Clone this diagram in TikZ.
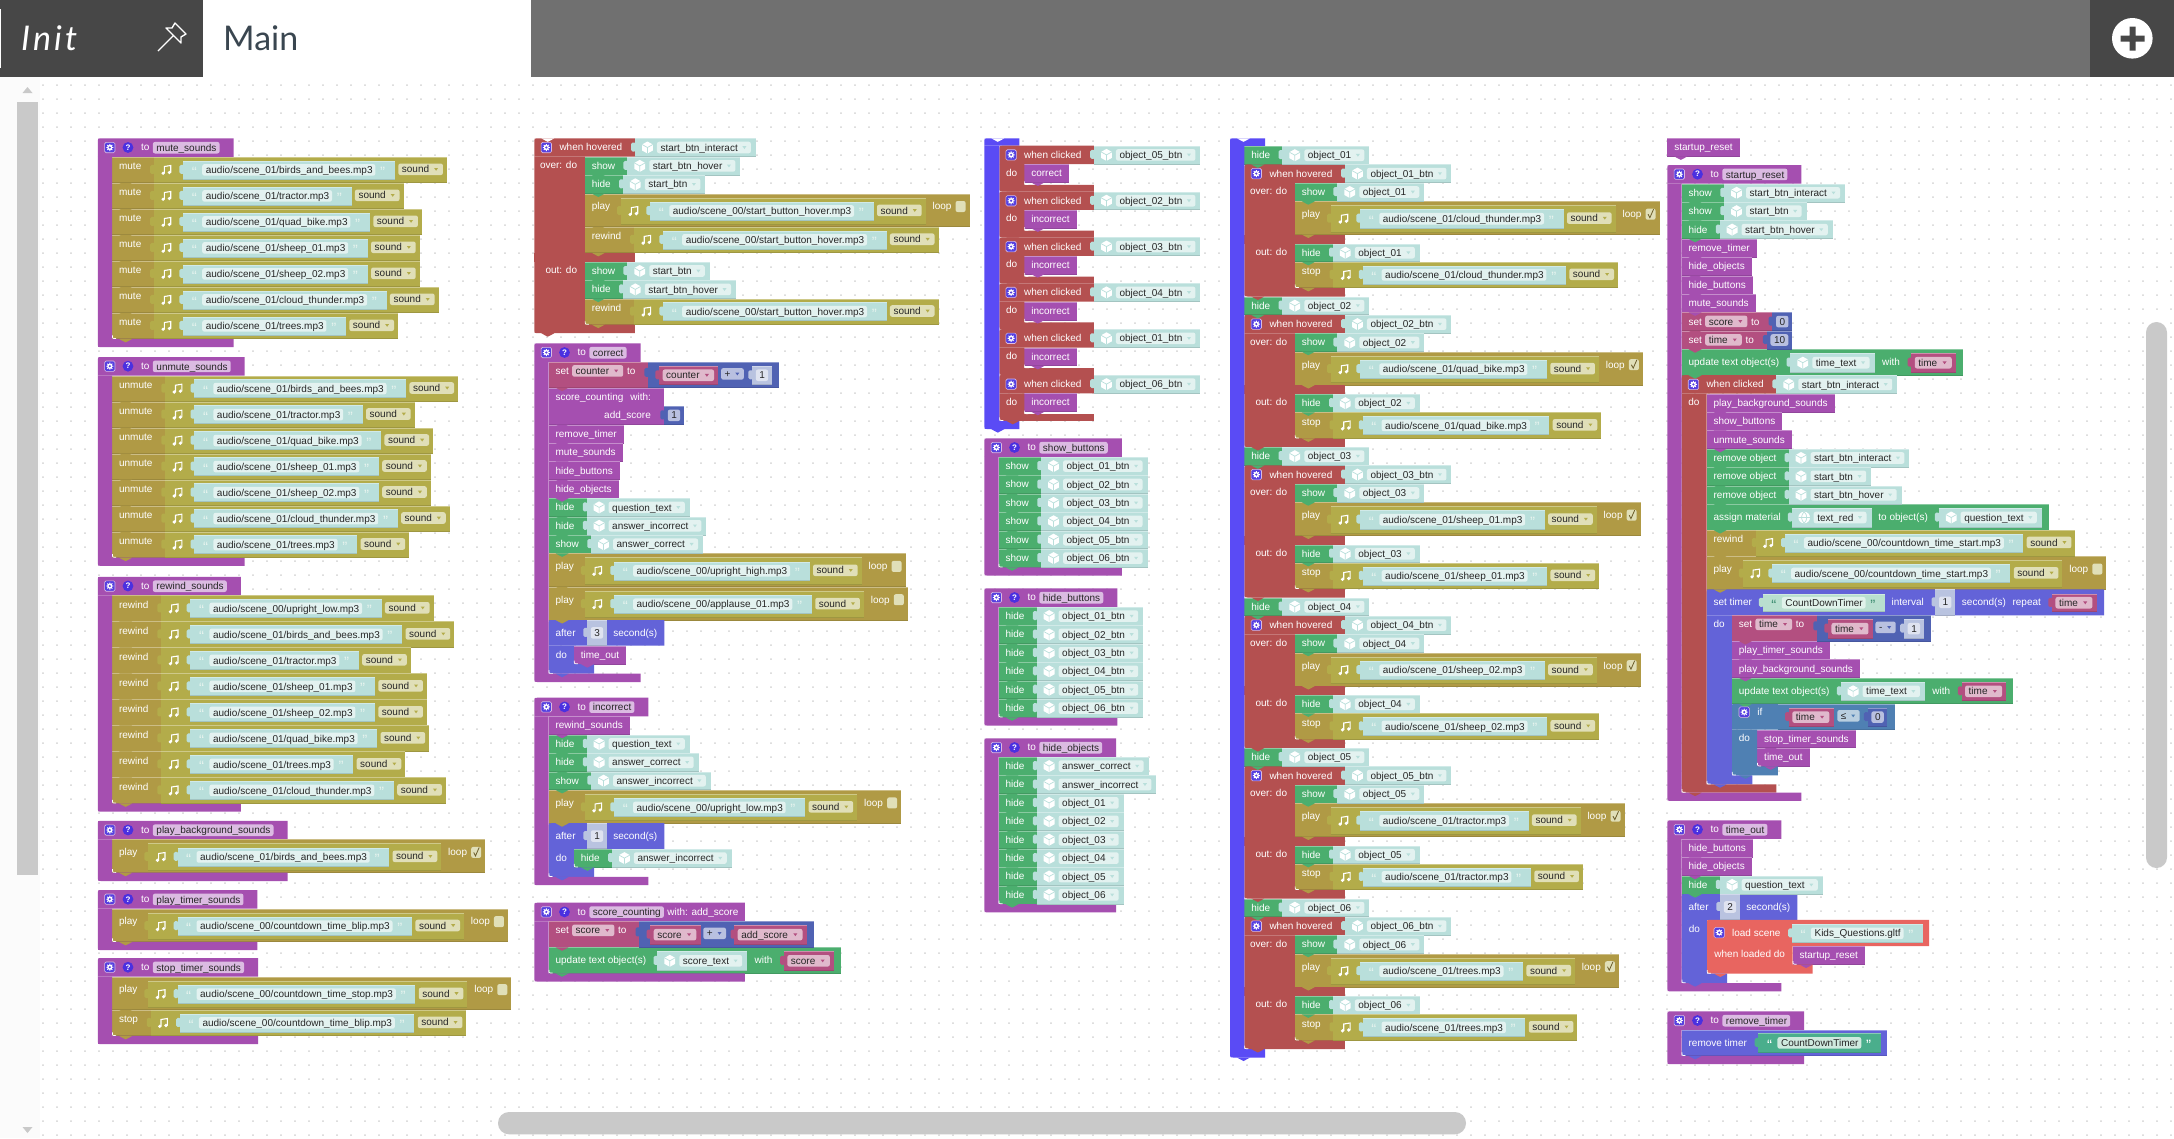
\documentclass[tikz,border=0pt]{standalone}
\usepackage{fontspec}
\usetikzlibrary{patterns}
\setmainfont{Liberation Sans}
\newfontfamily\tabfont{Lato}
\definecolor{fpur}{HTML}{A54FB0}
\definecolor{purf}{HTML}{DBBBE2}
\definecolor{hovc}{HTML}{B45050}
\definecolor{grnc}{HTML}{4BAE6E}
\definecolor{oldk}{HTML}{B09A45}
\definecolor{sndc}{HTML}{B3AC4A}
\definecolor{sndf}{HTML}{E0DFB8}
\definecolor{tealb}{HTML}{B9DFDB}
\definecolor{tealf}{HTML}{E3F2F0}
\definecolor{quot}{HTML}{E6F3EE}
\definecolor{varc}{HTML}{B34F80}
\definecolor{varf}{HTML}{E0B9CC}
\definecolor{mathc}{HTML}{5062B3}
\definecolor{mathf}{HTML}{B9C0E0}
\definecolor{nump}{HTML}{B9C3E0}
\definecolor{numf}{HTML}{DFE3F0}
\definecolor{timc}{HTML}{6363D8}
\definecolor{ifc}{HTML}{4F80B3}
\definecolor{iff}{HTML}{B9CFE0}
\definecolor{salc}{HTML}{E86560}
\definecolor{bluc}{HTML}{5A4BF5}
\definecolor{gearc}{HTML}{5540E0}
\definecolor{qc}{HTML}{4A30E0}
\definecolor{strg}{HTML}{4AAE8C}
\definecolor{strgf}{HTML}{CFE9DE}
\definecolor{strp}{HTML}{B9DFCF}
\definecolor{strpf}{HTML}{E0F2EA}
\definecolor{strq}{HTML}{3C8C70}
\definecolor{barc}{HTML}{C9C9C9}
\definecolor{dotc}{HTML}{DEDEDE}
\definecolor{mainc}{HTML}{3A4650}
\pgfdeclarepatternformonly{griddot}{\pgfpointorigin}{\pgfqpoint{13.65pt}{13.65pt}}{\pgfqpoint{13.65pt}{13.65pt}}{\pgfpathrectangle{\pgfqpoint{1.25pt}{2.15pt}}{\pgfqpoint{1.6pt}{1.6pt}}\pgfusepath{fill}}
\newcommand{\blockfont}{\fontsize{10}{12}\selectfont}
\tikzstyle{lbl}    = [anchor=base west,inner sep=0pt,text=white,font=\blockfont]
\tikzstyle{lblr}   = [anchor=base east,inner sep=0pt,text=white,font=\blockfont]
\tikzstyle{fldtxt} = [anchor=base west,inner sep=0pt,text=black!85,font=\blockfont]
\tikzstyle{qt}     = [anchor=base,inner sep=0pt,font=\fontsize{15}{15}\selectfont]
\pgfdeclarelayer{grid}\pgfdeclarelayer{base}\pgfdeclarelayer{notch}\pgfdeclarelayer{val}\pgfdeclarelayer{inner}
\pgfsetlayers{grid,base,notch,val,inner,main}
% pile up each layer in a flat box, and hand it to its pgf layer once at the end
\newbox\lybase\newbox\lynotch\newbox\lyval\newbox\lyinner
\newcommand{\onlyr}[2]{\global\setbox\csname ly#1\endcsname=\hbox to 0pt{\unhbox\csname ly#1\endcsname\begingroup#2\endgroup}}
\newlength\tw
\newcounter{nd}
% running position
\newcommand{\setc}[2]{\pgfmathsetmacro\tmpv{#2}\global\let#1\tmpv}
\newcommand{\sk}[1]{\setc\cx{\cx+#1}}
\newcommand{\meas}[1]{\pgfinterruptpicture\settowidth\tw{\blockfont #1}\global\tw=\tw\endpgfinterruptpicture}
\newcommand{\tx}[1]{\meas{#1}\stepcounter{nd}\node[lbl] (n\arabic{nd}) at (\cx,\ty) {#1};\setc\cx{\cx+\tw}}
\newcommand{\lblat}[3]{\stepcounter{nd}\node[lbl] (n\arabic{nd}) at (#1,#2+3.6) {#3};}
% shapes
\newcommand{\blk}[6]{\onlyr{#1}{\fill[fill=#6] (#2,#3) rectangle (#4,#5);\draw[draw=#6!65!white,line width=.5] (#2,#3+.25) -- (#4,#3+.25);\draw[draw=#6!88!black,line width=.5] (#2,#5-.25) -- (#4,#5-.25);}}
\newcommand{\bump}[3]{\onlyr{notch}{\fill[fill=#3] (#1+7,#2) .. controls (#1+10,#2) and (#1+10,#2+3.5) .. (#1+13.5,#2+3.5) .. controls (#1+17,#2+3.5) and (#1+17,#2) .. (#1+20,#2) -- cycle;}}
\newcommand{\tabl}[4]{\onlyr{#1}{\fill[fill=#4,rounded corners=1.5] (#2-3.8,#3-5) rectangle (#2+1,#3+4);}}
\newcommand{\dn}[3]{\fill[fill=#3] (#1-2,#2-1.3) -- (#1+2,#2-1.3) -- (#1,#2+1.5) -- cycle;}
\newcommand{\fdbox}[4]{\meas{#4}\setc\fe{\cx+3.4+\tw+#2}\fill[fill=#1,rounded corners=2.2] (\cx,#3-5.8) rectangle (\fe,#3+5.8);\stepcounter{nd}\node[fldtxt] (n\arabic{nd}) at (\cx+3.4,#3+3.6) {#4};\setc\cx{\fe}}
% icons
\newcommand{\noteicon}[2]{\begin{scope}[shift={(#1,#2)}]\fill[fill=white] (-3.6,3.4) circle (1.8);\fill[fill=white] (2.6,2.6) circle (1.8);\draw[draw=white,line width=1.1] (-2.4,3.4) -- (-2.4,-3.4) -- (4,-4.4) -- (4,2.6);\end{scope}}
\newcommand{\cubeicon}[2]{\begin{scope}[shift={(#1,#2)}]\fill[fill=white] (0,-6) -- (5.4,-3) -- (5.4,3) -- (0,6) -- (-5.4,3) -- (-5.4,-3) -- cycle;\draw[draw=tealb,line width=.7] (-5.4,-3) -- (0,0) -- (5.4,-3) (0,0) -- (0,6);\end{scope}}
\newcommand{\globeicon}[2]{\begin{scope}[shift={(#1,#2)}]\fill[fill=white] (0,0) circle (5.8);\draw[draw=tealb,line width=.7] (-5.8,0) -- (5.8,0) (0,-5.8) .. controls (-3.5,-2) and (-3.5,2) .. (0,5.8) (0,-5.8) .. controls (3.5,-2) and (3.5,2) .. (0,5.8);\end{scope}}
\newcommand{\gearicon}[2]{\begin{scope}[shift={(#1,#2)}]\fill[fill=gearc,rounded corners=1.5,draw=purf,line width=.6] (-5.2,-5.2) rectangle (5.2,5.2);\draw[draw=white,line width=.9] (3.5,0) -- (-3.5,0) (0,3.5) -- (0,-3.5) (2.5,2.5) -- (-2.5,-2.5) (2.5,-2.5) -- (-2.5,2.5);\fill[fill=white] (0,0) circle (2.6);\fill[fill=gearc] (0,0) circle (1.2);\end{scope}}
\newcommand{\qicon}[2]{\fill[fill=qc] (#1,#2) circle (5.4);\stepcounter{nd}\node[inner sep=0pt,text=white,font=\bfseries\fontsize{8}{8}\selectfont] (n\arabic{nd}) at (#1,#2) {?};}
% rows
\newcommand{\rowbegin}[4]{\setc\rx{#1}\setc\rh{#2}\gdef\rc{#3}\setc\ry{\cy}\setc\ty{\cy+#4+3.6}\setc\cx{#1+6.8}}
\newcommand{\rowend}{\setc\ybot{\ry+\rh}\blk{base}{\rx}{\ry}{\cx}{\ybot}{\rc}\bump{\rx}{\ybot}{\rc}\setc\cy{\ybot}}
\newcommand{\headend}{\setc\ybot{\ry+\rh}\onlyr{base}{\fill[fill=\rc] (\cx,\ybot) -- (\rx,\ybot) -- (\rx,\ry+3) .. controls (\rx,\ry) .. (\rx+3,\ry) -- (\cx,\ry) -- cycle;}\setc\cy{\ybot}}
\newcommand{\dostrip}[6]{\setc\ybot{\cy+#5}\onlyr{base}{\fill[fill=#6] (#1,#2) -- (#1+#3,#2) -- (#1+#3,\cy) -- (#1+#4,\cy) -- (#1+#4,\ybot) -- (#1+3,\ybot) .. controls (#1,\ybot) .. (#1,\ybot-3) -- cycle;}\onlyr{notch}{\draw[draw=white,line width=.7] (#1+#3+.3,\cy-3.5) .. controls (#1+#3+.3,\cy-.3) .. (#1+#3+4,\cy-.3);}\setc\cy{\ybot}}
% values
\newcommand{\strval}[7]{\setc\sa{\cx}\setc\yc{\ry+#2+#3/2}\stepcounter{nd}\node[qt,text=#7] (n\arabic{nd}) at (\sa+11.2,\yc+7.4) {“};\setc\cx{\sa+19}\fdbox{#6}{3}{\yc}{#4}\stepcounter{nd}\node[qt,text=#7] (n\arabic{nd}) at (\cx+7.3,\yc+7.4) {”};\sk{19.5}\blk{#1}{\sa}{\ry+#2}{\cx}{\ry+#2+#3}{#5}\tabl{#1}{\sa}{\yc}{#5}}
\newcommand{\soundval}[3]{\setc\vx{\cx}\setc\vt{\ry+#1}\setc\yc{\vt+#2/2}\noteicon{\vx+12.8}{\yc}\setc\cx{\vx+29.3}\strval{inner}{#1+#2/2-9.3}{18.6}{#3}{tealb}{tealf}{quot}\sk{3.4}\fdbox{sndf}{14}{\yc-.6}{sound}\dn{\cx-6.9}{\yc-.6}{sndc}\sk{4}\blk{val}{\vx}{\vt}{\cx}{\vt+#2}{sndc}\tabl{val}{\vx}{\yc}{sndc}}
\newcommand{\objval}[4][\cubeicon]{\setc\vx{\cx}\setc\vt{\ry+#2}\setc\yc{\vt+#3/2}#1{\vx+12.5}{\yc}\setc\cx{\vx+22}\fdbox{tealf}{13.3}{\yc}{#4}\dn{\cx-6.5}{\yc}{tealb}\sk{5}\blk{val}{\vx}{\vt}{\cx}{\vt+#3}{tealb}\tabl{val}{\vx}{\yc}{tealb}}
\newcommand{\varval}[4]{\setc\vx{\cx}\setc\vt{\ry+#2}\setc\yc{\vt+#3/2}\sk{3.4}\fdbox{varf}{14.7}{\yc}{#4}\dn{\cx-7.2}{\yc}{varc}\sk{4.3}\blk{#1}{\vx}{\vt}{\cx}{\vt+#3}{varc}\tabl{#1}{\vx}{\yc}{varc}}
\newcommand{\numval}[6]{\setc\vx{\cx}\setc\vt{\ry+#2}\setc\yc{\vt+#3/2}\sk{3.7}\fdbox{#6}{3.4}{\yc}{#4}\sk{3.7}\blk{#1}{\vx}{\vt}{\cx}{\vt+#3}{#5}\tabl{#1}{\vx}{\yc}{#5}}
\newcommand{\opfield}[3]{\setc\yc{\ry+12}\fdbox{#2}{13.5}{\yc}{#1}\dn{\cx-6.5}{\yc}{#3}}
\newcommand{\mbegin}{\setc\mx{\cx}\sk{11}}
\newcommand{\mend}[1]{\sk{7.3}\blk{val}{\mx}{\ry}{\cx}{\ry+\rh}{#1}\tabl{val}{\mx}{\ry+11}{#1}}
\newcommand{\chk}[1]{\setc\yc{\ty-3.3}\fill[fill=sndf,rounded corners=2] (\cx,\yc-5.5) rectangle (\cx+10,\yc+5.5);\ifnum#1=1 \draw[draw=oldk!60!black,line width=.8] (\cx+2.5,\yc) -- (\cx+4.3,\yc+3.5) -- (\cx+8,\yc-5);\fi\sk{10}}
% statements
\newcommand{\plainrow}[3]{\rowbegin{#1}{18.4}{#3}{9}\tx{#2}\sk{7.3}\rowend}
\newcommand{\objrow}[3]{\rowbegin{#1}{18.4}{grnc}{9}\tx{#2}\sk{12.3}\objval{0}{18.4}{#3}\rowend}
\newcommand{\sndrow}[3]{\rowbegin{#1}{26}{oldk}{9}\tx{#2}\sk{12.8}\soundval{0}{26}{#3}\rowend}
\newcommand{\playrow}[4]{\rowbegin{#1}{33.3}{oldk}{12.7}\tx{#2}\sk{11}\soundval{4}{27}{#3}\sk{6.7}\tx{loop}\sk{4.3}\chk{#4}\sk{4}\rowend}
\newcommand{\setbegin}[3]{\rowbegin{#1}{#2}{varc}{9}\tx{set}\sk{3.4}\setc\yc{\ry+9}\fdbox{varf}{14.3}{\yc}{#3}\dn{\cx-7}{\yc}{varc}\sk{3.7}\tx{to}\sk{13}}
\newcommand{\updaterow}[3]{\rowbegin{#1}{26}{grnc}{12.8}\tx{update text object(s)}\sk{11.3}\objval{4}{19}{#2}\sk{7.3}\tx{with}\sk{11.7}\varval{val}{4}{19}{#3}\sk{6.7}\rowend}
% blocks with a body
\newcommand{\funcbegin}[4][]{\setc\cy{#3}\rowbegin{#2}{18.6}{fpur}{9}\gearicon{\rx+12}{\ry+9.2}\qicon{\rx+30.2}{\ry+9.2}\setc\cx{\rx+43}\tx{to}\sk{3.7}\setc\yc{\ry+9.4}\fdbox{purf}{3.3}{\yc}{#4}\ifx\relax#1\relax\sk{14}\else\sk{3.3}\tx{#1}\sk{6.7}\fi\setc\fx{\rx}\setc\fr{\cx}\headend\setc\fs{\cy}\setc\fb{\fx+14.3}}
\newcommand{\funcend}{\dostrip{\fx}{\fs}{14.3}{\fr-\fx}{8.3}{fpur}}
\newcommand{\hoverbegin}[3]{\setc\cy{#2}\rowbegin{#1}{18.4}{hovc}{9}\gearicon{\rx+12}{\ry+9.2}\setc\cx{\rx+25}\tx{when hovered}\sk{12.8}\setc\hr{\cx}\objval{0}{18.4}{#3}\setc\cx{\hr}\setc\hx{\rx}\headend\setc\hs{\cy}\setc\hq{\hx+50.5}\stepcounter{nd}\node[lblr] (n\arabic{nd}) at (\hx+43,\cy+8.3+3.6) {over: do};}
\newcommand{\hovermid}{\stepcounter{nd}\node[lblr] (n\arabic{nd}) at (\hx+43,\cy+9+8.3+3.6) {out: do};\onlyr{base}{\fill[fill=hovc] (\hx,\cy) rectangle (\hr,\cy+9);}\setc\cy{\cy+9}}
\newcommand{\hoverend}{\dostrip{\hx}{\hs}{50.5}{\hr-\hx}{8.6}{hovc}\bump{\hx}{\cy}{hovc}}
\newcommand{\clickbegin}[2]{\rowbegin{#1}{18.4}{hovc}{9}\gearicon{\rx+11.8}{\ry+9.2}\setc\cx{\rx+24.7}\tx{when clicked}\sk{12.7}\setc\kr{\cx}\objval{0}{18.4}{#2}\setc\cx{\kr}\setc\kx{\rx}\headend\setc\ks{\cy}\setc\kb{\kx+25}\lblat{\kx+6.5}{\cy+8.3}{do}}
\newcommand{\clickend}[1]{\dostrip{\kx}{\ks}{25}{\kr-\kx}{#1}{hovc}\bump{\kx}{\cy}{hovc}}
\newcommand{\afterbegin}[2]{\rowbegin{#1}{25.7}{timc}{12.8}\tx{after}\sk{11.7}\numval{val}{0}{25.7}{#2}{nump}{numf}\sk{6.3}\tx{second(s)}\sk{7.3}\setc\ax{\rx}\headend\setc\as{\cy}\setc\ab{\ax+25.3}\lblat{\ax+7}{\cy+9.3}{do}}
\newcommand{\afterend}{\dostrip{\ax}{\as}{25.3}{45.5}{9.6}{timc}\bump{\ax}{\cy}{timc}}
\catcode`\_=12
\begin{document}
\begin{tikzpicture}[x=1pt,y=-1pt]
\useasboundingbox (0,0) rectangle (2174,1138);
\begin{pgfonlayer}{grid}
\fill[fill=white] (0,0) rectangle (2174,1138);
\fill[fill=black!1.5] (0,77) rectangle (40,1138);
\fill[pattern=griddot,pattern color=dotc] (40,78) rectangle (2174,1138);
\end{pgfonlayer}
% top bar
\fill[fill=black!72] (0,0) rectangle (203,77);
\fill[fill=white] (0,9) rectangle (1,68);
\fill[fill=black!56] (531,0) rectangle (2090,77);
\fill[fill=black!72] (2090,0) rectangle (2174,77);
\node[anchor=base west,inner sep=0pt,text=white,font=\tabfont\itshape\fontsize{34}{34}\selectfont\addfontfeature{LetterSpace=9}] (init) at (21,50) {Init};
\node[anchor=base west,inner sep=0pt,text=mainc,font=\tabfont\fontsize{34}{34}\selectfont] (main) at (223,50) {Main};
\draw[draw=white,line width=1.4,line join=round] (175,23) -- (186,34) -- (181,37) -- (181,43) -- (166,28) -- (172,28) -- cycle (173.5,35.5) -- (158,51);
\fill[fill=white] (2132.3,38.3) circle (20.3);
\fill[fill=black!72] (2120.5,35.5) rectangle (2144.5,41.5) (2129.5,26.5) rectangle (2135.5,50.5);
% scrollbars
\fill[fill=barc] (16.9,102) rectangle (37.9,875);
\fill[fill=barc] (22.5,93) -- (32.5,93) -- (27.5,87) -- cycle;
\fill[fill=barc] (22.5,1127) -- (32.5,1127) -- (27.5,1133) -- cycle;
\fill[fill=barc,rounded corners=10.5] (2146,322) rectangle (2167,868);
\fill[fill=barc,rounded corners=11] (498,1112) rectangle (1466,1134.3);
% column 1
\funcbegin{97.8}{138.3}{mute_sounds}
\foreach \p in {birds_and_bees,tractor,quad_bike,sheep_01,sheep_02,cloud_thunder,trees}{\sndrow{\fb}{mute}{audio/scene_01/\p.mp3}}
\funcend
\funcbegin{97.8}{357}{unmute_sounds}
\foreach \p in {birds_and_bees,tractor,quad_bike,sheep_01,sheep_02,cloud_thunder,trees}{\sndrow{\fb}{unmute}{audio/scene_01/\p.mp3}}
\funcend
\funcbegin{97.8}{576.8}{rewind_sounds}
\foreach \p in {00/upright_low,01/birds_and_bees,01/tractor,01/sheep_01,01/sheep_02,01/quad_bike,01/trees,01/cloud_thunder}{\sndrow{\fb}{rewind}{audio/scene_\p.mp3}}
\funcend
\funcbegin{97.8}{820.8}{play_background_sounds}
\playrow{\fb}{play}{audio/scene_01/birds_and_bees.mp3}{1}
\funcend
\funcbegin{97.8}{890}{play_timer_sounds}
\playrow{\fb}{play}{audio/scene_00/countdown_time_blip.mp3}{0}
\funcend
\funcbegin{97.8}{958}{stop_timer_sounds}
\playrow{\fb}{play}{audio/scene_00/countdown_time_stop.mp3}{0}
\sndrow{\fb}{stop}{audio/scene_00/countdown_time_blip.mp3}
\funcend
% column 2
\hoverbegin{534.3}{138.3}{start_btn_interact}
\bump{534.3}{138.3}{white}
\objrow{\hq}{show}{start_btn_hover}
\objrow{\hq}{hide}{start_btn}
\playrow{\hq}{play}{audio/scene_00/start_button_hover.mp3}{0}
\sndrow{\hq}{rewind}{audio/scene_00/start_button_hover.mp3}
\hovermid
\objrow{\hq}{show}{start_btn}
\objrow{\hq}{hide}{start_btn_hover}
\sndrow{\hq}{rewind}{audio/scene_00/start_button_hover.mp3}
\hoverend
\funcbegin{534.3}{343.3}{correct}
\setbegin{\fb}{25.7}{counter}\mbegin\varval{inner}{4}{18.7}{counter}\sk{2.7}\opfield{+}{mathf}{mathc}\sk{8.3}\numval{inner}{4}{18.7}{1}{nump}{numf}\mend{mathc}\rowend
\rowbegin{\fb}{37}{fpur}{9}\tx{score_counting}\sk{7}\tx{with:}\sk{13.3}\setc\rend{\cx}
\stepcounter{nd}\node[lblr] (n\arabic{nd}) at (\cx-13,\ry+27+3.6) {add_score};
\numval{val}{18.5}{18.5}{1}{mathc}{mathf}\setc\cx{\rend}\rowend
\plainrow{\fb}{remove_timer}{fpur}
\plainrow{\fb}{mute_sounds}{fpur}
\plainrow{\fb}{hide_buttons}{fpur}
\plainrow{\fb}{hide_objects}{fpur}
\objrow{\fb}{hide}{question_text}
\objrow{\fb}{hide}{answer_incorrect}
\objrow{\fb}{show}{answer_correct}
\playrow{\fb}{play}{audio/scene_00/upright_high.mp3}{0}
\playrow{\fb}{play}{audio/scene_00/applause_01.mp3}{0}
\afterbegin{\fb}{3}
\plainrow{\ab}{time_out}{fpur}
\afterend
\funcend
\funcbegin{534.3}{697.7}{incorrect}
\plainrow{\fb}{rewind_sounds}{fpur}
\objrow{\fb}{hide}{question_text}
\objrow{\fb}{hide}{answer_correct}
\objrow{\fb}{show}{answer_incorrect}
\playrow{\fb}{play}{audio/scene_00/upright_low.mp3}{0}
\afterbegin{\fb}{1}
\objrow{\ab}{hide}{answer_incorrect}
\afterend
\funcend
\funcbegin[with: add_score]{534.3}{902.7}{score_counting}
\setbegin{\fb}{26}{score}\mbegin\varval{inner}{4}{18.7}{score}\sk{2.7}\opfield{+}{mathf}{mathc}\sk{8.3}\varval{inner}{4}{18.7}{add_score}\mend{mathc}\rowend
\updaterow{\fb}{score_text}{score}
\funcend
% column 3
\setc\cy{138.3}\rowbegin{984.3}{7.4}{bluc}{0}\setc\cx{1019.3}\headend\setc\bs{\cy}
\bump{984.3}{138.3}{white}
\foreach \oname/\fname in {05/correct,02/incorrect,03/incorrect,04/incorrect,01/incorrect,06/incorrect}{
\clickbegin{999.3}{object_\oname_btn}
\plainrow{\kb}{\fname}{fpur}
\setc\cy{\cy+2.3}
\clickend{6.75}
}
\dostrip{984.3}{\bs}{15}{35}{8.3}{bluc}\bump{984.3}{\cy}{bluc}
\funcbegin{984.3}{438.3}{show_buttons}
\foreach \n in {1,...,6}{\objrow{\fb}{show}{object_0\n_btn}}
\funcend
\funcbegin{984.3}{588.3}{hide_buttons}
\foreach \n in {1,...,6}{\objrow{\fb}{hide}{object_0\n_btn}}
\funcend
\funcbegin{984.3}{738.3}{hide_objects}
\foreach \p in {answer_correct,answer_incorrect,object_01,object_02,object_03,object_04,object_05,object_06}{\objrow{\fb}{hide}{\p}}
\funcend
% column 4
\setc\cy{138.3}\rowbegin{1230}{7.7}{bluc}{0}\setc\cx{1265}\headend\setc\bs{\cy}
\bump{1230}{138.3}{white}
\foreach \n/\p in {01/cloud_thunder,02/quad_bike,03/sheep_01,04/sheep_02,05/tractor,06/trees}{
\objrow{1244.3}{hide}{object_\n}
\hoverbegin{1244.3}{\cy}{object_\n_btn}
\objrow{\hq}{show}{object_\n}
\playrow{\hq}{play}{audio/scene_01/\p.mp3}{1}
\hovermid
\objrow{\hq}{hide}{object_\n}
\sndrow{\hq}{stop}{audio/scene_01/\p.mp3}
\hoverend
}
\dostrip{1230}{\bs}{14.3}{35}{8.5}{bluc}\bump{1230}{\cy}{bluc}
% column 5
\setc\cy{138}
\plainrow{1667.3}{startup_reset}{fpur}
\funcbegin{1667.3}{165}{startup_reset}
\objrow{\fb}{show}{start_btn_interact}
\objrow{\fb}{show}{start_btn}
\objrow{\fb}{hide}{start_btn_hover}
\plainrow{\fb}{remove_timer}{fpur}
\plainrow{\fb}{hide_objects}{fpur}
\plainrow{\fb}{hide_buttons}{fpur}
\plainrow{\fb}{mute_sounds}{fpur}
\setbegin{\fb}{18.4}{score}\numval{val}{0}{18.4}{0}{mathc}{mathf}\rowend
\setbegin{\fb}{18.4}{time}\numval{val}{0}{18.4}{10}{mathc}{mathf}\rowend
\updaterow{\fb}{time_text}{time}
\clickbegin{\fb}{start_btn_interact}
\plainrow{\kb}{play_background_sounds}{fpur}
\plainrow{\kb}{show_buttons}{fpur}
\plainrow{\kb}{unmute_sounds}{fpur}
\objrow{\kb}{remove object}{start_btn_interact}
\objrow{\kb}{remove object}{start_btn}
\objrow{\kb}{remove object}{start_btn_hover}
\rowbegin{\kb}{26}{grnc}{12.8}\tx{assign material}\sk{11}\objval[\globeicon]{4}{19}{text_red}\sk{6.7}\tx{to object(s)}\sk{11}\objval{4}{19}{question_text}\sk{6.7}\rowend
\sndrow{\kb}{rewind}{audio/scene_00/countdown_time_start.mp3}
\playrow{\kb}{play}{audio/scene_00/countdown_time_start.mp3}{0}
\setc\tmx{\kb}
\rowbegin{\tmx}{26}{timc}{12.8}\tx{set timer}\sk{11}\strval{val}{4.3}{18.3}{CountDownTimer}{strp}{strpf}{strq}\sk{6.3}\tx{interval}\sk{11.7}\numval{val}{0}{26}{1}{nump}{numf}\sk{6.7}\tx{second(s)}\sk{6.7}\tx{repeat}\sk{11.3}\varval{val}{4.3}{18.3}{time}\sk{7.3}\headend\setc\tms{\cy}
\lblat{\tmx+6.7}{\cy+8.7}{do}
\setc\tmb{\tmx+25.3}
\setbegin{\tmb}{25.7}{time}\mbegin\varval{inner}{4}{18.7}{time}\sk{2.7}\opfield{-}{mathf}{mathc}\sk{8.3}\numval{inner}{4}{18.7}{1}{nump}{numf}\mend{mathc}\rowend
\plainrow{\tmb}{play_timer_sounds}{fpur}
\plainrow{\tmb}{play_background_sounds}{fpur}
\updaterow{\tmb}{time_text}{time}
\rowbegin{\tmb}{25.7}{ifc}{8.3}\gearicon{\rx+12.3}{\ry+8.3}\setc\cx{\rx+25.3}\tx{if}\setc\cx{\rx+46}\mbegin\varval{inner}{4.3}{18}{time}\sk{3.7}\opfield{≤}{iff}{ifc}\sk{8}\numval{inner}{4.3}{18}{0}{mathc}{mathf}\mend{ifc}\setc\cx{\rx+46}\headend\setc\iss{\cy}
\lblat{\tmb+6.7}{\cy+8.3}{do}
\plainrow{\tmb+25.3}{stop_timer_sounds}{fpur}
\plainrow{\tmb+25.3}{time_out}{fpur}
\dostrip{\tmb}{\iss}{25.3}{46}{9}{ifc}\bump{\tmb}{\cy}{ifc}
\dostrip{\tmx}{\tms}{25.3}{45.7}{9}{timc}\bump{\tmx}{\cy}{timc}
\clickend{8.3}
\funcend
\funcbegin{1667.3}{820.3}{time_out}
\plainrow{\fb}{hide_buttons}{fpur}
\plainrow{\fb}{hide_objects}{fpur}
\objrow{\fb}{hide}{question_text}
\afterbegin{\fb}{2}
\setc\lx{\ab}
\rowbegin{\lx}{26.3}{salc}{12.8}\gearicon{\rx+12.3}{\ry+12.8}\setc\cx{\rx+25}\tx{load scene}\sk{11.7}\strval{val}{4}{19}{Kids_Questions.gltf}{tealb}{tealf}{quot}\sk{6}\headend\setc\ls{\cy}
\lblat{\lx+7.3}{\cy+8}{when loaded do}
\plainrow{\lx+85.7}{startup_reset}{fpur}
\dostrip{\lx}{\ls}{85.7}{105.7}{9}{salc}\bump{\lx}{\cy}{salc}
\afterend
\funcend
\funcbegin{1667.3}{1011.3}{remove_timer}
\rowbegin{\fb}{26}{timc}{12.8}\tx{remove timer}\sk{11.7}\strval{val}{3.5}{19}{CountDownTimer}{strg}{strgf}{white}\sk{6.7}\rowend
\funcend
\begin{pgfonlayer}{base}\box\lybase\end{pgfonlayer}
\begin{pgfonlayer}{notch}\box\lynotch\end{pgfonlayer}
\begin{pgfonlayer}{val}\box\lyval\end{pgfonlayer}
\begin{pgfonlayer}{inner}\box\lyinner\end{pgfonlayer}
\end{tikzpicture}
\end{document}
